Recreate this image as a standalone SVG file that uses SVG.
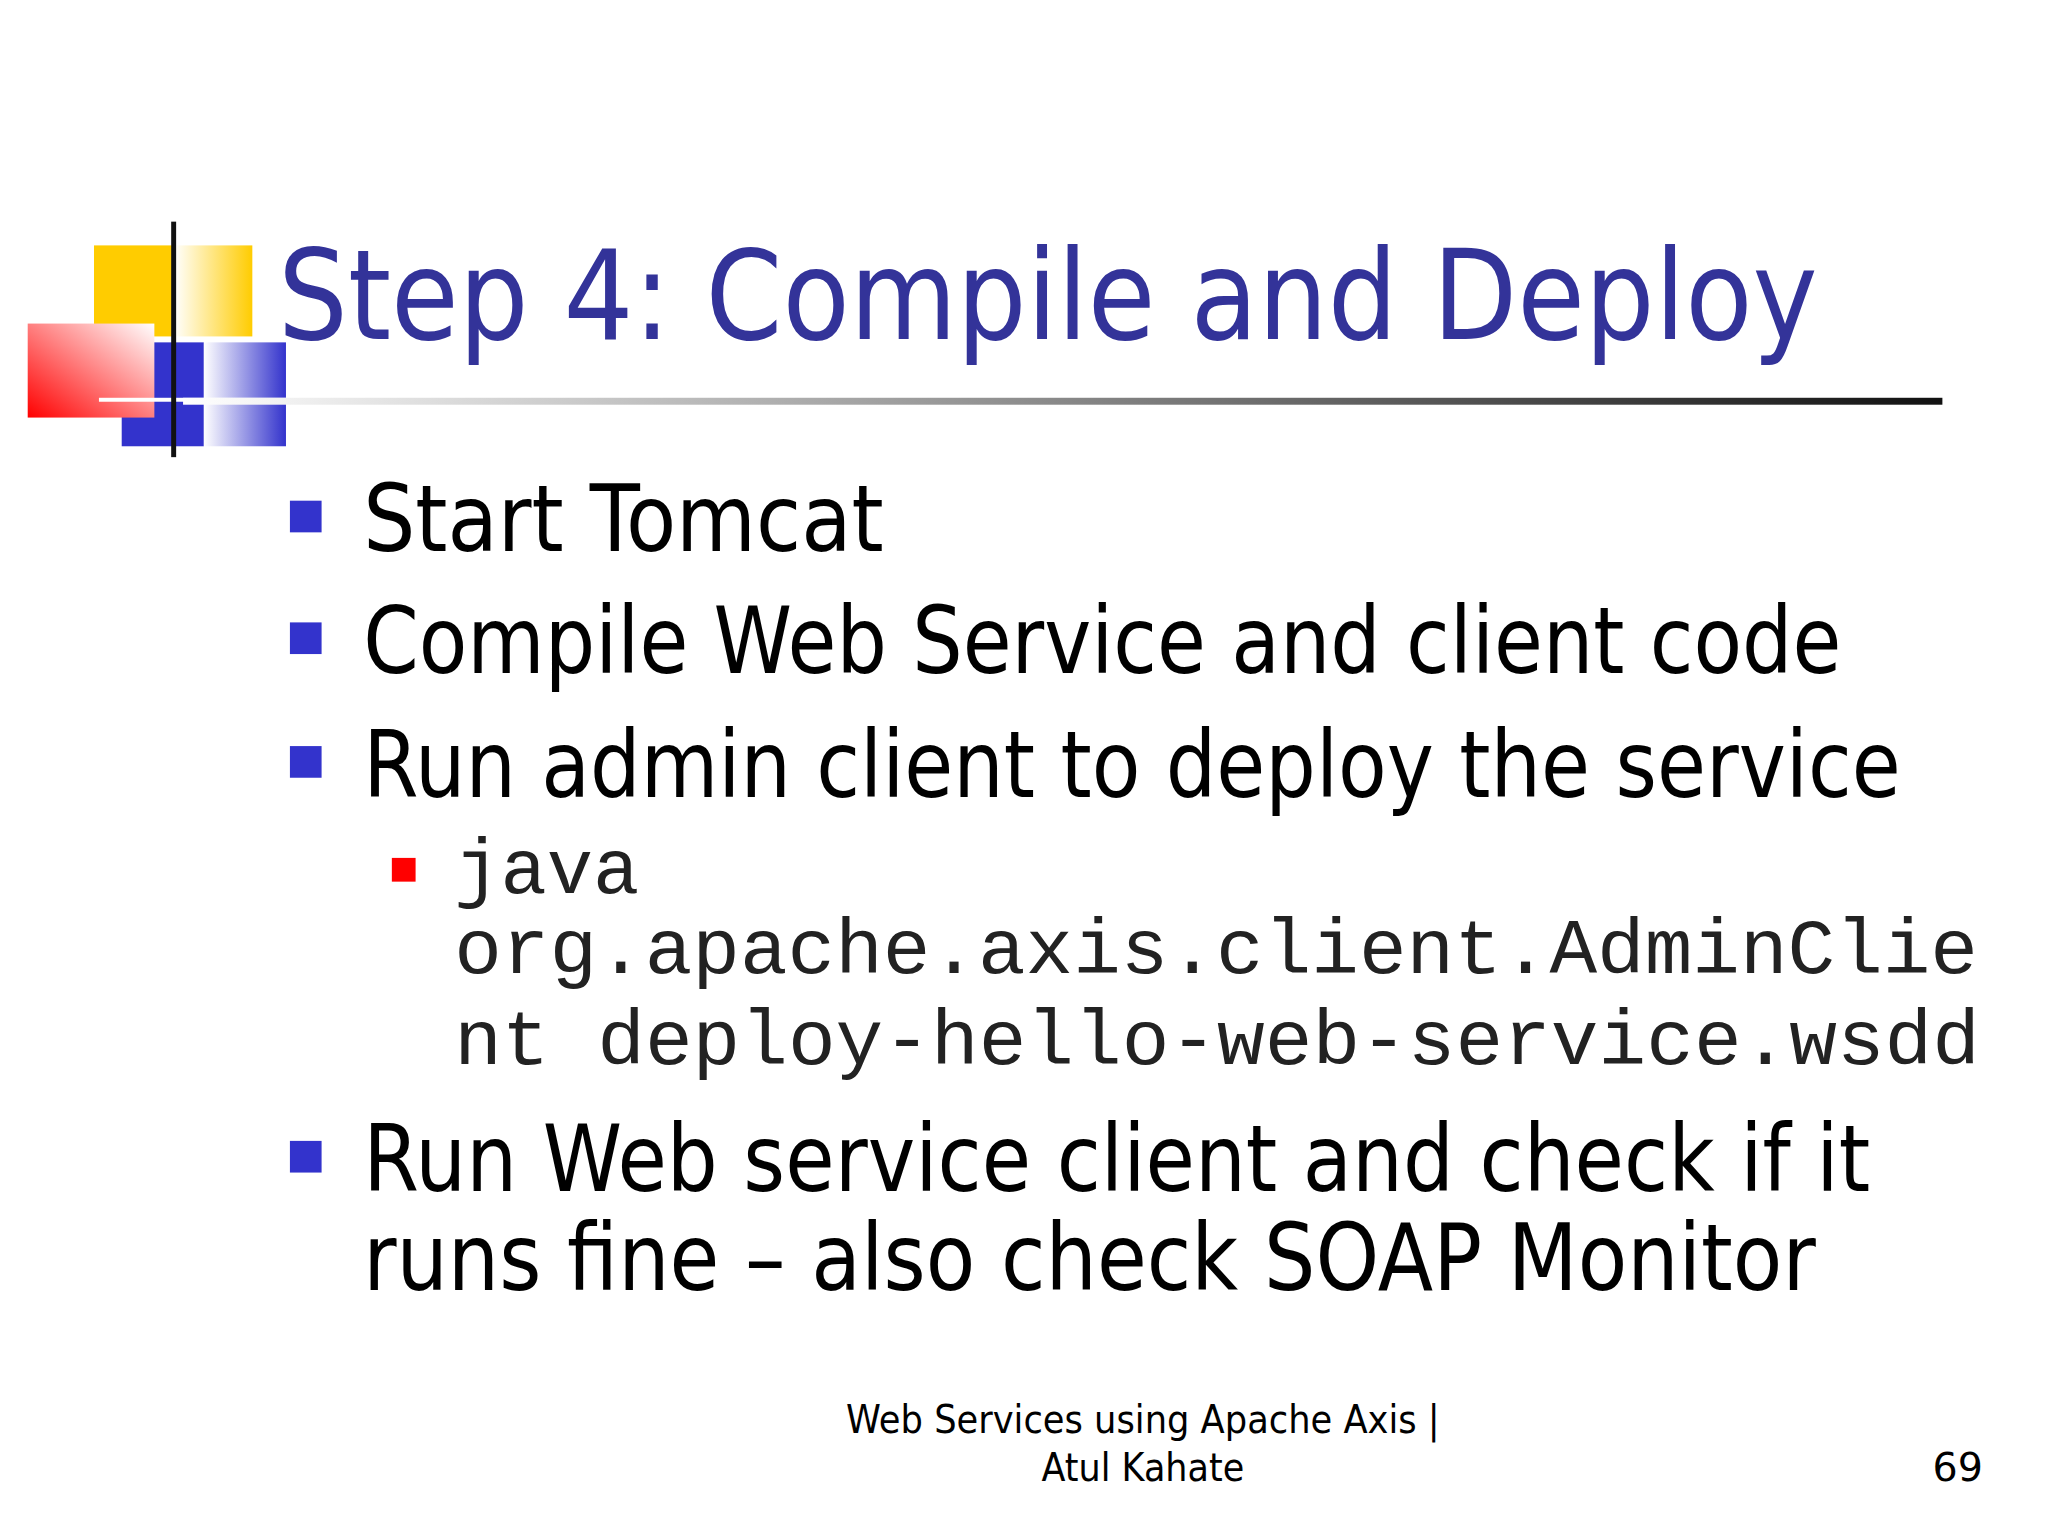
<svg xmlns="http://www.w3.org/2000/svg" width="2048" height="1536" viewBox="0 0 2048 1536">
<style>
.t{font-family:"DejaVu Sans","Noto Sans",sans-serif;fill:#000}
.m{font-family:"Liberation Mono","DejaVu Sans Mono",monospace;fill:#222;font-size:78px}
.f{font-family:"DejaVu Sans","Noto Sans",sans-serif;font-size:40px;fill:#000}
</style>
<defs>
<linearGradient id="ln" x1="0" x2="1"><stop offset="0" stop-color="#fff"/><stop offset="1" stop-color="#111"/></linearGradient>
<linearGradient id="yg" x1="0" x2="1"><stop offset="0" stop-color="#fff"/><stop offset="1" stop-color="#ffcc00"/></linearGradient>
<linearGradient id="rg" x1="0" y1="1" x2="1" y2="0"><stop offset="0" stop-color="#ff0000"/><stop offset="1" stop-color="#fff"/></linearGradient>
<linearGradient id="bg" x1="0" x2="1"><stop offset="0" stop-color="#fff"/><stop offset="1" stop-color="#3333cc"/></linearGradient>
</defs>
<rect width="2048" height="1536" fill="#fff"/>
<g transform="scale(0.9895)">
<g id="logo">
<rect x="95" y="248" width="81" height="92" fill="#ffcc00"/>
<rect x="176" y="248" width="79" height="92" fill="url(#yg)"/>
<rect x="123" y="346" width="83" height="105" fill="#3333cc"/>
<rect x="206" y="346" width="83" height="105" fill="url(#bg)"/>
<rect x="28" y="327" width="128" height="95" fill="url(#rg)"/>
<rect x="100" y="402" width="190" height="4" fill="#fff"/>
<rect x="173" y="224" width="5" height="238" fill="#111"/>
</g>
<rect id="rule" x="185" y="402" width="1778" height="7" fill="url(#ln)"/>
<text id="title" x="281" y="343" font-family="DejaVu Sans,sans-serif" font-size="126" fill="#333399" textLength="1556" lengthAdjust="spacingAndGlyphs">Step 4: Compile and Deploy</text>
<g id="bullets" fill="#3333cc">
<rect x="293" y="506" width="32" height="32"/>
<rect x="293" y="629" width="32" height="32"/>
<rect x="293" y="754" width="32" height="32"/>
<rect x="293" y="1153" width="32" height="32"/>
<rect x="396" y="867" width="24" height="24" fill="#ff0000"/>
</g>
<g id="text">
<text class="t" x="367" y="557" font-size="94" textLength="526" lengthAdjust="spacingAndGlyphs">Start Tomcat</text>
<text class="t" x="367" y="680" font-size="94" textLength="1494" lengthAdjust="spacingAndGlyphs">Compile Web Service and client code</text>
<text class="t" x="367" y="805" font-size="94" textLength="1554" lengthAdjust="spacingAndGlyphs">Run admin client to deploy the service</text>
<text class="m" x="459" y="902">java</text>
<text class="m" x="459" y="983" textLength="1540" lengthAdjust="spacingAndGlyphs">org.apache.axis.client.AdminClie</text>
<text class="m" x="459" y="1075" textLength="1542" lengthAdjust="spacingAndGlyphs">nt deploy-hello-web-service.wsdd</text>
<text class="t" x="367" y="1204" font-size="94" textLength="1523" lengthAdjust="spacingAndGlyphs">Run Web service client and check if it</text>
<text class="t" x="367" y="1304" font-size="94" textLength="1468" lengthAdjust="spacingAndGlyphs">runs fine – also check SOAP Monitor</text>
</g>
<g id="footer">
<text class="f" x="1155" y="1448" text-anchor="middle" textLength="600" lengthAdjust="spacingAndGlyphs">Web Services using Apache Axis |</text>
<text class="f" x="1155" y="1497" text-anchor="middle" textLength="205" lengthAdjust="spacingAndGlyphs">Atul Kahate</text>
<text class="f" x="2004" y="1497" text-anchor="end">69</text>
</g>
</g>
</svg>
